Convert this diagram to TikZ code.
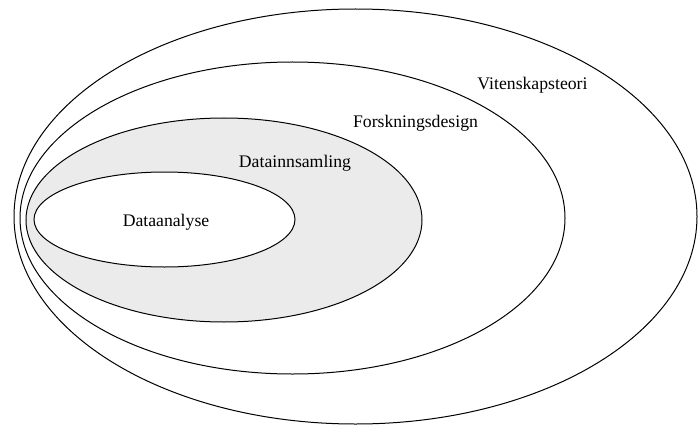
\documentclass[tikz,border=0pt]{standalone}
\usepackage{fontspec}
\setmainfont{Liberation Serif}
\begin{document}
\begin{tikzpicture}[x=1pt,y=-1pt,
  ring/.style={draw=black,line width=1pt},
  lbl/.style={font=\fontsize{17.7}{20}\selectfont,inner sep=0pt}]
\useasboundingbox (0,0) rectangle (698,425);
\begin{scope}
\clip (0,0) rectangle (698,425);
\draw[ring] (355.5,216.5) ellipse [x radius=341.5, y radius=207.5];
\draw[ring] (292.5,218) ellipse [x radius=272.5, y radius=156];
\draw[ring,fill={rgb,255:red,235;green,235;blue,235}] (224,220) ellipse [x radius=198, y radius=102];
\draw[ring,fill=white] (164.5,219.5) ellipse [x radius=130.5, y radius=47.5];
\end{scope}
\node[lbl] (vit) at (532.5,85) {Vitenskapsteori};
\node[lbl] (for) at (415.5,123) {Forskningsdesign};
\node[lbl] (inn) at (295,163) {Datainnsamling};
\node[lbl] (ana) at (166,222) {Dataanalyse};
\end{tikzpicture}
\end{document}
